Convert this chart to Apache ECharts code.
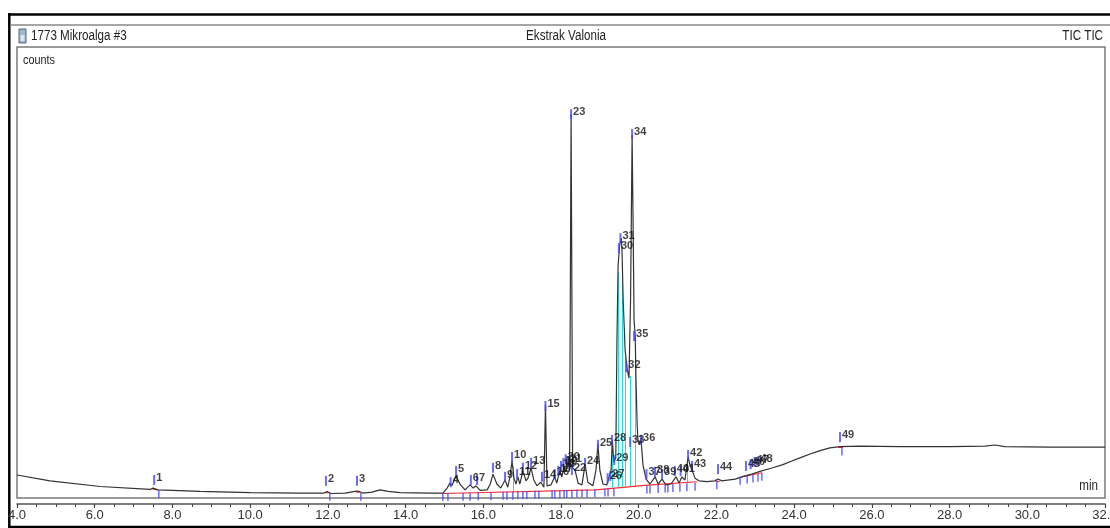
<!DOCTYPE html>
<html>
<head>
<meta charset="utf-8">
<script src="https://cdn.jsdelivr.net/npm/echarts@6/dist/echarts.min.js"></script>
<style>
html,body{margin:0;padding:0;background:#fff;}
#c{width:1110px;height:528px;}
</style>
</head>
<body>
<div id="c"></div>
<script>
// ---- data (retention time in min, signal in % of full scale) ----
const tracePoints = [
 [4.00,5.1],[4.85,3.8],[6.14,2.55],[7.42,1.9],[7.50,2.2],[7.55,2.3],[7.63,1.8],[8.71,1.45],[10.00,1.2],[11.28,1.1],
 [11.90,1.1],[11.98,1.45],[12.08,1.0],[12.44,1.1],[12.70,1.45],[12.78,1.55],[12.90,1.1],[13.14,1.3],[13.34,1.8],[13.55,1.45],
 [13.86,1.2],[14.63,1.1],[14.96,1.1],[15.07,2.2],[15.14,3.3],[15.19,2.7],[15.30,4.9],[15.40,3.1],[15.53,1.8],[15.66,2.9],
 [15.74,2.2],[15.81,2.7],[15.92,1.7],[16.10,1.8],[16.18,3.1],[16.25,5.3],[16.35,3.1],[16.45,2.2],[16.56,4.0],[16.63,2.4],
 [16.68,4.4],[16.74,8.2],[16.79,4.4],[16.84,3.1],[16.89,4.7],[16.94,3.1],[17.02,6.0],[17.10,3.8],[17.15,4.4],[17.23,6.65],
 [17.30,4.0],[17.38,2.7],[17.48,3.5],[17.56,2.4],[17.60,20.6],[17.64,2.7],[17.74,2.9],[17.84,4.7],[17.89,3.3],[17.97,6.0],
 [18.02,4.7],[18.08,6.9],[18.13,5.8],[18.18,8.0],[18.22,6.2],[18.26,85.1],[18.30,6.65],[18.36,6.2],[18.44,3.3],[18.54,2.9],
 [18.62,7.5],[18.69,3.5],[18.82,2.7],[18.90,6.2],[18.95,12.0],[19.00,6.2],[19.08,3.1],[19.18,2.9],[19.23,4.4],[19.29,6.2],
 [19.32,12.9],[19.36,8.0],[19.41,8.9],[19.44,35.0],[19.47,51.7],[19.51,56.1],[19.55,57.6],[19.57,55.0],[19.60,43.9],[19.65,32.8],
 [19.70,28.8],[19.75,26.6],[19.79,43.9],[19.83,80.5],[19.86,57.2],[19.88,39.5],[19.91,35.9],[19.93,26.2],[19.96,16.2],[19.98,12.9],
 [20.01,11.8],[20.06,12.9],[20.11,7.3],[20.19,4.2],[20.29,3.1],[20.42,4.7],[20.50,3.1],[20.60,4.2],[20.70,2.9],[20.83,3.1],
 [20.96,4.7],[21.04,3.3],[21.11,4.7],[21.19,4.0],[21.27,9.1],[21.32,7.3],[21.37,6.9],[21.45,4.4],[21.55,3.8],[21.76,3.65],
 [21.96,3.8],[22.04,4.2],[22.14,3.8],[22.48,4.2],[22.73,4.9],[22.91,5.3],[23.12,5.9],[23.43,6.65],[23.71,7.4],[23.94,8.2],
 [24.15,8.9],[24.41,9.75],[24.67,10.5],[24.92,11.1],[25.18,11.4],[25.69,11.5],[26.72,11.4],[28.01,11.4],[28.91,11.5],[29.17,11.75],
 [29.42,11.4],[30.58,11.3],[32.00,11.3]
];

const peakIds = [1,2,3,4,5,6,7,8,9,10,11,12,13,14,15,16,17,18,19,20,21,22,23,24,25,26,27,28,29,30,31,32,33,34,35,36,37,38,39,40,41,42,43,44,45,46,47,48,49];
const peakTimes = [7.53,11.95,12.75,15.16,15.30,15.68,15.84,16.25,16.56,16.74,16.87,17.02,17.23,17.51,17.60,17.84,17.93,18.00,18.06,18.12,18.17,18.28,18.26,18.62,18.95,19.20,19.27,19.31,19.37,19.49,19.53,19.68,19.78,19.83,19.88,20.06,20.20,20.42,20.60,20.93,21.08,21.27,21.37,22.04,22.76,22.88,22.98,23.08,25.18];
const peakLabelHeights = [4.0,3.8,3.8,3.5,6.0,4.0,4.0,6.7,4.7,9.1,5.3,6.7,7.8,4.7,20.4,5.3,6.0,7.1,7.8,8.6,8.2,6.2,85.1,7.8,11.8,4.4,4.9,12.9,8.4,55.4,57.6,29.0,12.4,80.7,35.9,12.9,5.3,5.8,5.3,6.0,6.0,9.5,7.1,6.4,7.1,7.5,8.0,8.2,13.5];

// peak-boundary marks below the baseline
const boundaryTimes = [7.65,12.05,12.85,14.96,15.09,15.48,15.66,15.87,16.20,16.51,16.61,16.76,16.89,17.02,17.12,17.33,17.43,17.77,17.84,17.97,18.08,18.15,18.28,18.41,18.54,18.67,18.87,19.13,19.21,19.36,20.21,20.29,20.50,20.68,20.75,20.88,21.06,21.24,21.45,22.01,22.61,22.79,22.94,23.07,23.17,25.23];
const boundaryHeights = [0.9,0.3,0.3,0.2,0.2,0.3,0.3,0.4,0.4,0.5,0.5,0.5,0.6,0.6,0.6,0.7,0.7,0.8,0.8,0.8,0.9,0.9,0.9,1.0,1.0,1.0,1.1,1.2,1.2,1.3,1.9,1.9,2.0,2.1,2.1,2.2,2.3,2.4,2.5,2.8,3.8,4.1,4.3,4.5,4.7,10.3];

// integration baseline segments (red)
const baselineSegments = [
 [[7.48,2.0],[7.63,1.8]],
 [[11.92,1.2],[12.03,1.2]],
 [[12.72,1.3],[12.83,1.3]],
 [[14.97,1.0],[18.90,1.8],[20.15,2.8],[21.50,3.6]],
 [[21.98,3.7],[22.08,3.7]],
 [[22.62,4.6],[23.17,5.6]],
 [[25.13,11.2],[25.26,11.2]]
];

// drop lines (cyan): time, bottom, top
const dropTimes   = [16.76,19.31,19.47,19.58,19.66,19.79,19.92,21.26];
const dropBottoms = [1.4, 2.3, 2.4, 2.4, 2.5, 2.5, 2.6, 3.5];
const dropTops    = [7.0, 12.0,50.0,48.0,31.0,27.0,34.0,8.0];

const xTickStep = 2;
// -------------------------------------------------------------------

const FONT = '"Liberation Sans",Arial,sans-serif';
const NARROW = 0.83;
const chart = echarts.init(document.getElementById('c'), null, {renderer:'canvas'});

const markerData = peakIds.map((id,i)=>[peakTimes[i], peakLabelHeights[i], id]);
const lowerData = boundaryTimes.map((t,i)=>[t, boundaryHeights[i]]);
const dropData = dropTimes.map((t,i)=>({coords:[[t,dropBottoms[i]],[t,dropTops[i]]]}));
const redData = baselineSegments.map(s=>({coords:s}));

function txt(text, x, y, size, align){
  return {type:'text',x:x,y:y,scaleX:NARROW,silent:true,
    style:{text:text,font:size+'px '+FONT,fill:'#222',align:align,verticalAlign:'middle'}};
}

chart.setOption({
  animation:false,
  backgroundColor:'#fff',
  grid:{left:17,right:5,top:47,bottom:30,show:true,borderColor:'#7a7a7a',borderWidth:1.5,
        containLabel:false,outerBoundsMode:'none'},
  xAxis:{
    type:'value',min:4,max:32,interval:xTickStep,offset:6,
    axisLine:{show:true,onZero:false,lineStyle:{color:'#555',width:1.5}},
    axisTick:{show:true,length:4,lineStyle:{color:'#444',width:1.2}},
    minorTick:{show:true,splitNumber:4,length:3,lineStyle:{color:'#444',width:1}},
    splitLine:{show:false},
    axisLabel:{formatter:v=>v.toFixed(1),fontFamily:FONT,fontSize:13,color:'#333',margin:5,showMaxLabel:true,showMinLabel:true,hideOverlap:false}
  },
  yAxis:{type:'value',min:0,max:100,show:false},
  series:[
    {type:'lines',coordinateSystem:'cartesian2d',polyline:false,data:dropData,
     lineStyle:{color:'#1fe0e0',width:1,opacity:1},z:1,silent:true},
    {type:'lines',coordinateSystem:'cartesian2d',polyline:true,data:redData,
     lineStyle:{color:'#ff2a2a',width:1.2,opacity:1},z:2,silent:true},
    {type:'line',data:tracePoints,showSymbol:false,symbol:'none',
     lineStyle:{color:'#333',width:1.2},z:3,silent:true},
    {type:'scatter',data:lowerData,symbol:'rect',symbolSize:[1.5,8],
     itemStyle:{color:'#4646ff'},z:4,silent:true},
    {type:'scatter',data:markerData,symbol:'rect',symbolSize:[2,10],
     itemStyle:{color:'#4646ff'},z:5,silent:true,
     label:{show:true,position:'right',distance:1,formatter:p=>String(p.value[2]),
       fontFamily:FONT,fontWeight:'bold',fontSize:11,color:'#111',offset:[0,-2]}}
  ],
  graphic:[
    {type:'line',shape:{x1:8,y1:14.5,x2:1110,y2:14.5},style:{stroke:'#000',lineWidth:2.5},silent:true},
    {type:'line',shape:{x1:9.3,y1:13,x2:9.3,y2:528},style:{stroke:'#000',lineWidth:2.5},silent:true},
    {type:'line',shape:{x1:8,y1:527,x2:1110,y2:527},style:{stroke:'#000',lineWidth:2.5},silent:true},
    {type:'line',shape:{x1:10,y1:25,x2:1110,y2:25},style:{stroke:'#888',lineWidth:1.5},silent:true},
    {type:'rect',shape:{x:19,y:29,width:7,height:14},style:{fill:'#9fb6d0',stroke:'#56677a',lineWidth:1},silent:true},
    {type:'rect',shape:{x:20.5,y:35,width:4,height:6},style:{fill:'#dbe6f2'},silent:true},
    txt('1773 Mikroalga #3',31,36,14,'left'),
    txt('Ekstrak Valonia',566,36,14,'center'),
    txt('TIC TIC',1103,36,14,'right'),
    txt('counts',23,60,13,'left'),
    txt('min',1098,486,14,'right')
  ]
});
</script>
</body>
</html>
